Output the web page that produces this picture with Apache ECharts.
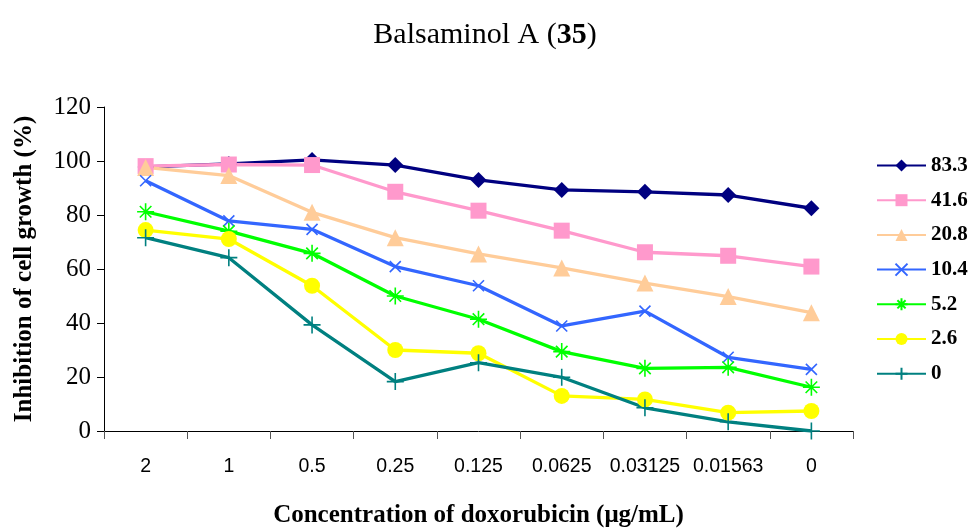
<!DOCTYPE html>
<html>
<head>
<meta charset="utf-8">
<script src="https://cdn.jsdelivr.net/npm/echarts@6/dist/echarts.min.js"></script>
<style>
  html, body { margin: 0; padding: 0; background: #fff; }
  #chart { width: 970px; height: 528px; }
</style>
</head>
<body>
<div id="chart"></div>
<script>
// Doxorubicin concentrations (µg/mL), high to low
const concentrations = ['2', '1', '0.5', '0.25', '0.125', '0.0625', '0.03125', '0.01563', '0'];

// Inhibition of cell growth (%) for each Balsaminol A concentration
const s83_3 = [97.8, 98.9, 100.4, 98.5, 93.0, 89.3, 88.6, 87.4, 82.5];
const s41_6 = [98.1, 98.7, 98.5, 88.6, 81.6, 74.2, 66.2, 64.9, 60.9];
const s20_8 = [97.6, 94.6, 81.0, 71.6, 65.6, 60.4, 54.8, 49.8, 43.8];
const s10_4 = [92.7, 77.8, 74.7, 60.9, 53.8, 38.9, 44.4, 27.3, 22.8];
const s5_2  = [81.2, 74.0, 65.8, 50.0, 41.4, 29.4, 23.2, 23.6, 16.2];
const s2_6  = [74.4, 71.1, 53.8, 30.0, 28.8, 13.0, 11.7, 6.8, 7.4];
const s0    = [71.6, 64.2, 39.3, 18.3, 25.3, 19.9, 8.6, 3.4, 0.0];

const seriesNames = ['83.3', '41.6', '20.8', '10.4', '5.2', '2.6', '0'];
const seriesData = [s83_3, s41_6, s20_8, s10_4, s5_2, s2_6, s0];

const yTicks = [0, 20, 40, 60, 80, 100, 120];

const styles = [
  { color: '#000080', symbol: 'diamond', size: 16, stroke: false },
  { color: '#FF99CC', symbol: 'rect', size: 16, stroke: false },
  { color: '#FFCC99', symbol: 'triangle', size: 17, stroke: false },
  { color: '#3366FF', symbol: 'path://M0,0L10,10M10,0L0,10', size: 11, stroke: true },
  { color: '#00FF00', symbol: 'path://M5,0L5,10M0,5L10,5M1.6,1.6L8.4,8.4M8.4,1.6L1.6,8.4', size: 17, stroke: true },
  { color: '#FFFF00', symbol: 'circle', size: 16, stroke: false },
  { color: '#008080', symbol: 'path://M5,0L5,10M0,5L10,5', size: 17, stroke: true }
];

const serif = '"Liberation Serif", "Times New Roman", serif';
const sans = '"Liberation Sans", Arial, sans-serif';

const chart = echarts.init(document.getElementById('chart'), null, { renderer: 'canvas' });

chart.setOption({
  backgroundColor: '#ffffff',
  animation: false,
  title: {
    text: '{n|Balsaminol A (}{b|35}{n|)}',
    left: 'center',
    top: 15,
    textStyle: {
      rich: {
        n: { fontFamily: serif, fontSize: 30, color: '#000', fontWeight: 'normal' },
        b: { fontFamily: serif, fontSize: 30, color: '#000', fontWeight: 'bold' }
      }
    }
  },
  legend: {
    orient: 'vertical',
    left: 871,
    top: 150,
    itemWidth: 49,
    itemHeight: 15,
    itemGap: 13.7,
    data: seriesNames,
    textStyle: { fontFamily: serif, fontSize: 21, fontWeight: 'bold', color: '#000' }
  },
  grid: { left: 104, right: 117, top: 107, bottom: 97, containLabel: false, outerBoundsMode: 'none' },
  xAxis: {
    type: 'category',
    data: concentrations,
    boundaryGap: true,
    name: 'Concentration of doxorubicin (\u03bcg/mL)',
    nameLocation: 'middle',
    nameGap: 72,
    nameTextStyle: { fontFamily: serif, fontSize: 25, fontWeight: 'bold', color: '#000', verticalAlign: 'top' },
    axisLine: { lineStyle: { color: '#000', width: 1 } },
    axisTick: { show: true, length: 8, inside: false, interval: 0, lineStyle: { color: '#555' } },
    axisLabel: { interval: 0, hideOverlap: false, margin: 26, fontFamily: sans, fontSize: 19.5, color: '#000' },
    splitLine: { show: false }
  },
  yAxis: {
    type: 'value',
    min: yTicks[0],
    max: yTicks[yTicks.length - 1],
    interval: 20,
    name: 'Inhibition of cell growth (%)',
    nameLocation: 'middle',
    nameGap: 67,
    nameRotate: 90,
    nameTextStyle: { fontFamily: serif, fontSize: 25, fontWeight: 'bold', color: '#000' },
    axisLine: { show: true, lineStyle: { color: '#000', width: 1 } },
    axisTick: { show: true, length: 7, lineStyle: { color: '#000' } },
    axisLabel: { margin: 13, fontFamily: serif, fontSize: 25, color: '#000' },
    splitLine: { show: false }
  },
  series: seriesNames.map((name, i) => {
    const st = styles[i];
    return {
      name: name,
      type: 'line',
      data: seriesData[i],
      symbol: st.symbol,
      symbolSize: st.size,
      showAllSymbol: true,
      lineStyle: { color: st.color, width: 3.3 },
      itemStyle: st.stroke
        ? { color: st.color, borderColor: st.color, borderWidth: 1.6 }
        : { color: st.color, borderWidth: 0 },
      emphasis: { disabled: true }
    };
  })
});
</script>
</body>
</html>
